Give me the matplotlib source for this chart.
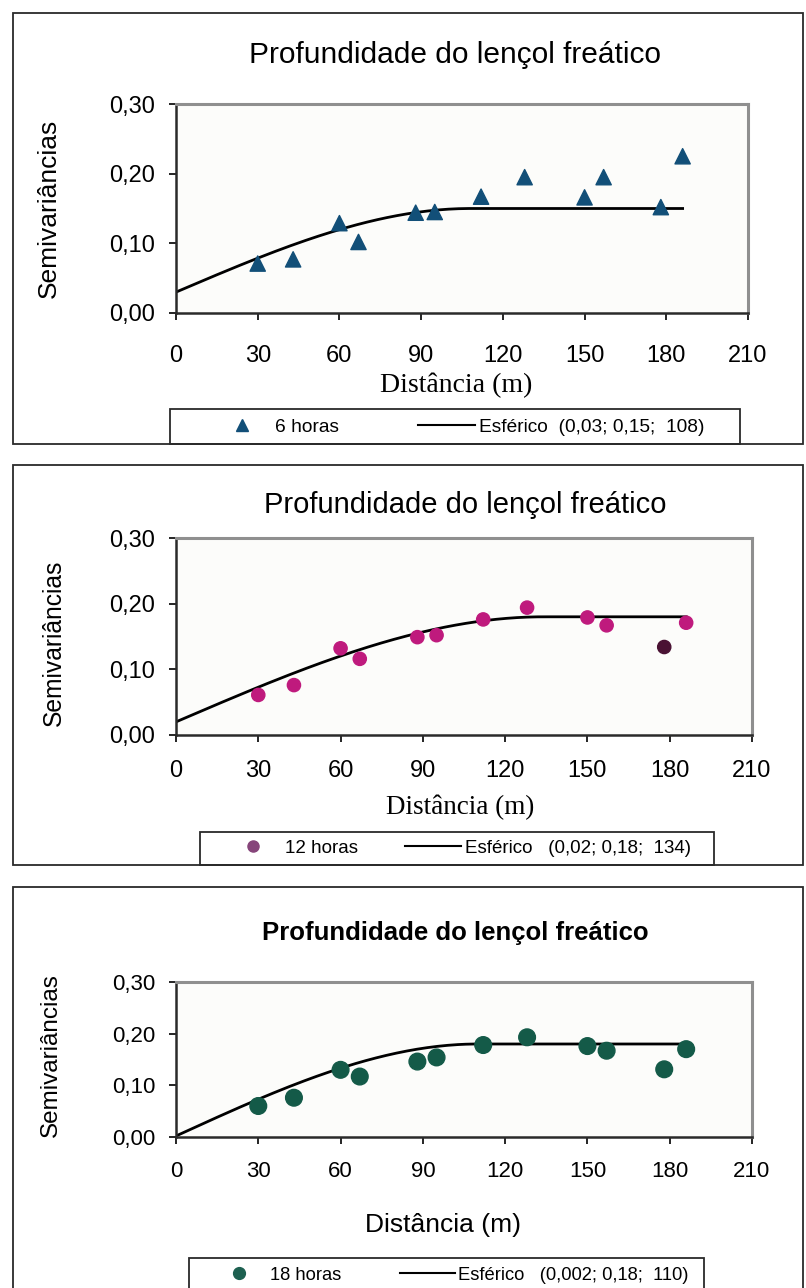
import numpy as np
import matplotlib.pyplot as plt
from matplotlib.patches import Rectangle
from matplotlib.lines import Line2D

plt.rcParams['font.family'] = ['Liberation Sans', 'DejaVu Sans']

# distancias (m) e semivariancias experimentais
lags = [30, 43, 60, 67, 88, 95, 112, 128, 150, 157, 178, 186]
gamma_6h = [0.071, 0.077, 0.129, 0.102, 0.144, 0.145, 0.167, 0.195, 0.166, 0.195, 0.152, 0.225]
gamma_12h = [0.061, 0.076, 0.132, 0.116, 0.149, 0.152, 0.176, 0.194, 0.179, 0.167, 0.134, 0.171]
gamma_18h = [0.060, 0.076, 0.130, 0.117, 0.146, 0.154, 0.178, 0.193, 0.176, 0.167, 0.131, 0.170]

# modelo esferico: (efeito pepita, patamar, alcance)
model_6h = (0.03, 0.15, 108)
model_12h = (0.02, 0.18, 134)
model_18h = (0.002, 0.18, 110)

names = ['6 horas', '12 horas', '18 horas']
model_labels = ['Esférico  (0,03; 0,15;  108)',
                'Esférico   (0,02; 0,18;  134)',
                'Esférico   (0,002; 0,18;  110)']

title = 'Profundidade do lençol freático'
xticks = [0, 30, 60, 90, 120, 150, 180, 210]
yticks = [0.0, 0.1, 0.2, 0.3]
ytick_labels = ['0,00', '0,10', '0,20', '0,30']


def esferico(h, c0, c, a):
    h = np.asarray(h, dtype=float)
    g = c0 + (c - c0) * (1.5 * h / a - 0.5 * (h / a) ** 3)
    return np.where(h < a, g, c)


W, H = 806.0, 1288.0


def fx(px):
    return px / W


def fy(py):
    return 1 - py / H


def rect(l, t, r, b):
    return [fx(l), fy(b), (r - l) / W, (b - t) / H]


mag = '#bf1a7d'
panels = [
    dict(vals=gamma_6h, model=model_6h, marker='^', ms=11, colors=['#124f78'] * 12, leg_color='#124f78', leg_ms=9,
         ax=(176, 104, 748, 313), frame=(13, 13, 803, 444), legbox=(170, 409, 740, 444), leg=(459, 427),
         colsp=4.1, leg_size=13.8, title=(455, 55), title_kw=dict(fontsize=21.5),
         xlab=(456, 385), xlab_family='Liberation Serif', xlab_size=20,
         ylab=(49, 208), ylab_size=19, tick_size=17, xpad=18),
    dict(vals=gamma_12h, model=model_12h, marker='o', ms=9.5, colors=[mag] * 10 + ['#4a1233', mag],
         leg_color='#86457a', leg_ms=8,
         ax=(176, 538, 752, 735), frame=(13, 465, 803, 865), legbox=(200, 832, 714, 865), leg=(458, 848),
         colsp=2.5, leg_size=13.5, title=(465, 505), title_kw=dict(fontsize=21),
         xlab=(460, 807), xlab_family='Liberation Serif', xlab_size=19.5,
         ylab=(54, 643), ylab_size=17.7, tick_size=17, xpad=13),
    dict(vals=gamma_18h, model=model_18h, marker='o', ms=12, colors=['#145a48'] * 12, leg_color='#1d6050', leg_ms=8.5,
         ax=(176, 982, 752, 1137), frame=(13, 887, 803, 1300), legbox=(189, 1258, 704, 1300), leg=(450, 1275),
         colsp=3.2, leg_size=13.2, title=(455, 933), title_kw=dict(fontsize=18.5, fontweight='bold'),
         xlab=(443, 1225), xlab_family='Liberation Sans', xlab_size=19,
         ylab=(51, 1055), ylab_size=17.5, tick_size=16, xpad=12),
]

fig = plt.figure(figsize=(8.06, 12.88), dpi=100)

for p, name, mlabel in zip(panels, names, model_labels):
    # moldura do grafico e da legenda
    for b in (p['frame'], p['legbox']):
        fig.add_artist(Rectangle((fx(b[0]), fy(b[3])), (b[2] - b[0]) / W, (b[3] - b[1]) / H,
                                 transform=fig.transFigure, fill=False, ec='#2a2a2a', lw=1.3))

    ax = fig.add_axes(rect(*p['ax']))
    ax.set_facecolor('#fcfcfa')

    h = np.linspace(0, lags[-1], 200)
    ax.plot(h, esferico(h, *p['model']), color='black', lw=2, zorder=2)
    ax.scatter(lags, p['vals'], s=p['ms'] ** 2, marker=p['marker'], c=p['colors'], zorder=3, clip_on=False)

    ax.set_xlim(0, 210)
    ax.set_ylim(0, 0.30)
    ax.set_xticks(xticks)
    ax.set_yticks(yticks)
    ax.set_yticklabels(ytick_labels)
    ax.tick_params(axis='both', direction='out', length=5, width=1.2, labelsize=p['tick_size'])
    ax.tick_params(axis='x', pad=p['xpad'])
    ax.tick_params(axis='y', pad=10)
    for s in ('top', 'right'):
        ax.spines[s].set_color('#8f8f8f')
        ax.spines[s].set_linewidth(2.2)
    for s in ('left', 'bottom'):
        ax.spines[s].set_color('#2a2a2a')
        ax.spines[s].set_linewidth(1.8)

    fig.text(fx(p['title'][0]), fy(p['title'][1]), title, ha='center', va='center', **p['title_kw'])
    fig.text(fx(p['xlab'][0]), fy(p['xlab'][1]), 'Distância (m)', ha='center', va='center',
             family=p['xlab_family'], fontsize=p['xlab_size'])
    fig.text(fx(p['ylab'][0]), fy(p['ylab'][1]), 'Semivariâncias', ha='center', va='center',
             rotation=90, fontsize=p['ylab_size'])

    handles = [Line2D([], [], ls='none', marker=p['marker'], ms=p['leg_ms'], color=p['leg_color']),
               Line2D([], [], color='black', lw=1.5)]
    ax.legend(handles, [name, mlabel], ncol=2, loc='center',
              bbox_to_anchor=(fx(p['leg'][0]), fy(p['leg'][1])), bbox_transform=fig.transFigure,
              frameon=False, fontsize=p['leg_size'], handlelength=3, handletextpad=0.2,
              columnspacing=p['colsp'], borderpad=0)

fig.savefig('out.png', dpi=100, facecolor='white')
